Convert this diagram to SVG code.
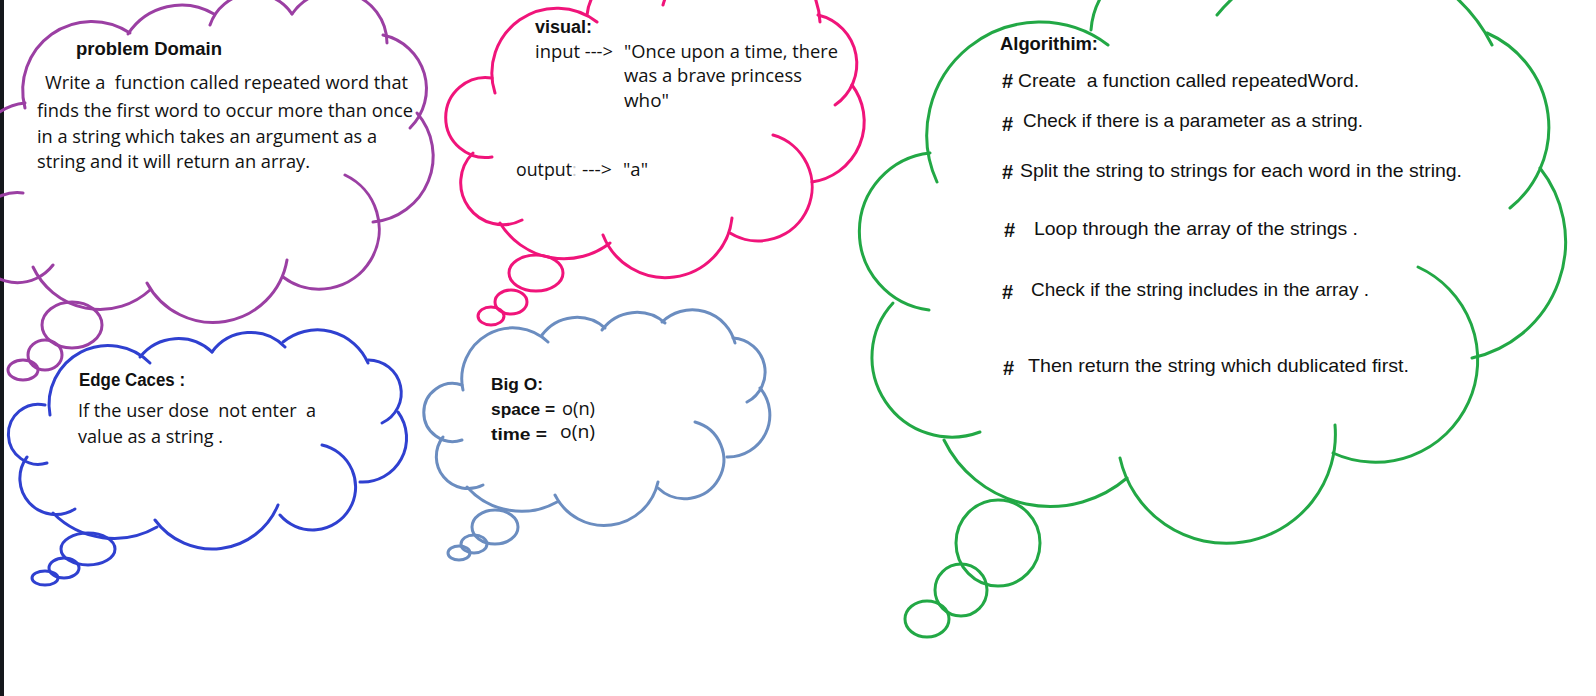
<svg xmlns="http://www.w3.org/2000/svg" width="1596" height="696" viewBox="0 0 1596 696">
<style>
.c{fill:none;stroke-width:3;stroke-linecap:round}
.pu{stroke:#9b3fa3}.pk{stroke:#f0147a}.bl{stroke:#2f40d0}.st{stroke:#6b8dc0}.gr{stroke:#22a845}
text{fill:#111;white-space:pre}
.t{font-family:"Open Sans","Liberation Sans",sans-serif;font-size:18px}
.b{font-family:"Liberation Sans",Arial,sans-serif;font-size:18px;font-weight:bold}
.g{font-family:"Liberation Sans",Arial,sans-serif;font-size:19px}
.h{font-family:"Liberation Sans",Arial,sans-serif;font-size:17px;font-weight:bold}
.k{font-family:"Liberation Sans",Arial,sans-serif;font-size:20px;font-weight:bold}
</style>
<rect width="1596" height="696" fill="#fff"/>
<rect x="0" y="0" width="4" height="696" fill="#15181c"/>

<g id="problem-domain">
<g class="c pu">
<path d="M25 108 A69 69 0 0 1 130 33"/>
<path d="M128 34 A64 64 0 0 1 214 14"/>
<path d="M210 25 A46 46 0 0 1 292 14"/>
<path d="M292 14 A52 52 0 0 1 387 43"/>
<path d="M383 35 A55 55 0 0 1 410 128"/>
<path d="M417 113 A66 66 0 0 1 373 222"/>
<path d="M345 175 A60 60 0 1 1 283 277"/>
<path d="M287 260 A75 75 0 0 1 147 283"/>
<path d="M150 290 A74 74 0 0 1 33 267"/>
<path d="M53 265 A45 45 0 1 1 23 193"/>
<path d="M-5 200 A55 55 0 0 1 25 103"/>
<ellipse cx="72" cy="325" rx="30" ry="23"/>
<ellipse cx="45" cy="355" rx="17" ry="15"/>
<ellipse cx="23" cy="370" rx="15" ry="10"/>
</g>
<text class="b" x="76" y="55" textLength="146" lengthAdjust="spacingAndGlyphs">problem Domain</text>
<text class="t" x="45" y="89" textLength="363" lengthAdjust="spacingAndGlyphs">Write a  function called repeated word that</text>
<text class="t" x="37" y="117" textLength="376" lengthAdjust="spacingAndGlyphs">finds the first word to occur more than once</text>
<text class="t" x="37" y="143" textLength="340" lengthAdjust="spacingAndGlyphs">in a string which takes an argument as a</text>
<text class="t" x="37" y="168" textLength="273" lengthAdjust="spacingAndGlyphs">string and it will return an array.</text>
</g>

<g id="visual">
<g class="c pk">
<path d="M495 93 A65 65 0 0 1 597 22"/>
<path d="M587 15 A47 47 0 0 1 672 -8"/>
<path d="M663 5 A80 80 0 0 1 820 22"/>
<path d="M818 15 A50 50 0 0 1 835 105"/>
<path d="M852 85 A61 61 0 0 1 812 182"/>
<path d="M773 135 A54 54 0 1 1 730 233"/>
<path d="M732 218 A67 67 0 0 1 603 235"/>
<path d="M610 243 A75 75 0 0 1 500 223"/>
<path d="M522 220 A42 42 0 0 1 473 153"/>
<path d="M492 157 A40 40 0 1 1 492 78"/>
<ellipse cx="536" cy="273" rx="27" ry="18"/>
<ellipse cx="511" cy="302" rx="16" ry="12"/>
<ellipse cx="491" cy="316" rx="13" ry="9"/>
</g>
<text class="b" x="535" y="33" textLength="57" lengthAdjust="spacingAndGlyphs">visual:</text>
<text class="t" x="535" y="58" textLength="78" lengthAdjust="spacingAndGlyphs">input ---&gt;</text>
<text class="t" x="624" y="58" textLength="214" lengthAdjust="spacingAndGlyphs">"Once upon a time, there</text>
<text class="t" x="624" y="82" textLength="178" lengthAdjust="spacingAndGlyphs">was a brave princess</text>
<text class="t" x="624" y="107" textLength="45" lengthAdjust="spacingAndGlyphs">who"</text>
<text class="t" x="516" y="176" textLength="56" lengthAdjust="spacingAndGlyphs">output</text>
<text class="t" x="572" y="176" style="fill:#ccc">:</text>
<text class="t" x="582" y="176" textLength="30" lengthAdjust="spacingAndGlyphs">---&gt;</text>
<text class="t" x="623" y="176" textLength="25" lengthAdjust="spacingAndGlyphs">"a"</text>
</g>

<g id="edge-cases">
<g class="c bl">
<path d="M50 415 A59 59 0 0 1 150 363"/>
<path d="M140 357 A49 49 0 0 1 212 352"/>
<path d="M212 352 A48 48 0 0 1 285 347"/>
<path d="M283 342 A55 55 0 0 1 368 363"/>
<path d="M368 360 A33 33 0 0 1 382 423"/>
<path d="M398 412 A44 44 0 0 1 360 482"/>
<path d="M322 445 A43 43 0 1 1 280 515"/>
<path d="M278 505 A71 71 0 0 1 155 520"/>
<path d="M157 527 A86 86 0 0 1 53 513"/>
<path d="M75 509 A36 36 0 0 1 27 457"/>
<path d="M47 463 A30 30 0 1 1 45 405"/>
<ellipse cx="88" cy="549" rx="27" ry="16"/>
<ellipse cx="64" cy="568" rx="15" ry="10"/>
<ellipse cx="45" cy="578" rx="13" ry="7"/>
</g>
<text class="b" x="79" y="386" textLength="106" lengthAdjust="spacingAndGlyphs">Edge Caces :</text>
<text class="t" x="78" y="417" textLength="238" lengthAdjust="spacingAndGlyphs">If the user dose  not enter  a</text>
<text class="t" x="78" y="443" textLength="145" lengthAdjust="spacingAndGlyphs">value as a string .</text>
</g>

<g id="big-o">
<g class="c st">
<path d="M463 390 A51 51 0 0 1 548 342"/>
<path d="M542 335 A43 43 0 0 1 605 328"/>
<path d="M602 330 A43 43 0 0 1 665 323"/>
<path d="M662 322 A44 44 0 0 1 735 343"/>
<path d="M733 338 A34 34 0 0 1 747 402"/>
<path d="M760 388 A42 42 0 0 1 727 457"/>
<path d="M695 422 A39 39 0 1 1 658 488"/>
<path d="M658 482 A55 55 0 0 1 555 495"/>
<path d="M557 502 A73 73 0 0 1 467 487"/>
<path d="M483 485 A32 32 0 0 1 443 437"/>
<path d="M462 440 A29 29 0 1 1 462 385"/>
<ellipse cx="495" cy="527" rx="23" ry="17"/>
<ellipse cx="474" cy="544" rx="13" ry="9"/>
<ellipse cx="459" cy="553" rx="11" ry="7"/>
</g>
<text class="h" x="491" y="390" textLength="52" lengthAdjust="spacingAndGlyphs">Big O:</text>
<text class="h" x="491" y="415" textLength="64" lengthAdjust="spacingAndGlyphs">space =</text>
<text class="t" x="562" y="415" textLength="33" lengthAdjust="spacingAndGlyphs">o(n)</text>
<text class="h" x="491" y="440" textLength="56" lengthAdjust="spacingAndGlyphs">time =</text>
<text class="t" x="560" y="438" textLength="35" lengthAdjust="spacingAndGlyphs">o(n)</text>
</g>

<g id="algorithm">
<g class="c gr">
<path d="M937 182 A113 113 0 0 1 1108 45"/>
<path d="M1091 30 A77 77 0 0 1 1230 -10"/>
<path d="M1217 15 A165 165 0 0 1 1492 45"/>
<path d="M1487 33 A103 103 0 0 1 1510 208"/>
<path d="M1540 168 A119 119 0 0 1 1472 358"/>
<path d="M1418 267 A102 102 0 0 1 1333 453"/>
<path d="M1335 425 A109 109 0 0 1 1120 458"/>
<path d="M1127 478 A118 118 0 0 1 944 440"/>
<path d="M980 432 A80 80 0 0 1 893 303"/>
<path d="M929 310 A79 79 0 0 1 930 153"/>
<ellipse cx="998" cy="543" rx="42" ry="43"/>
<ellipse cx="961" cy="590" rx="26" ry="26"/>
<ellipse cx="927" cy="619" rx="22" ry="18"/>
</g>
<text class="b" x="1000" y="50" textLength="98" lengthAdjust="spacingAndGlyphs">Algorithim:</text>
<text class="k" x="1002" y="88">#</text>
<text class="g" x="1018" y="87" textLength="341" lengthAdjust="spacingAndGlyphs">Create  a function called repeatedWord.</text>
<text class="k" x="1002" y="131">#</text>
<text class="g" x="1023" y="127" textLength="340" lengthAdjust="spacingAndGlyphs">Check if there is a parameter as a string.</text>
<text class="k" x="1002" y="179">#</text>
<text class="g" x="1020" y="177" textLength="442" lengthAdjust="spacingAndGlyphs">Split the string to strings for each word in the string.</text>
<text class="k" x="1004" y="237">#</text>
<text class="g" x="1034" y="235" textLength="324" lengthAdjust="spacingAndGlyphs">Loop through the array of the strings .</text>
<text class="k" x="1002" y="299">#</text>
<text class="g" x="1031" y="296" textLength="338" lengthAdjust="spacingAndGlyphs">Check if the string includes in the array .</text>
<text class="k" x="1003" y="375">#</text>
<text class="g" x="1028" y="372" textLength="381" lengthAdjust="spacingAndGlyphs">Then return the string which dublicated first.</text>
</g>
</svg>
